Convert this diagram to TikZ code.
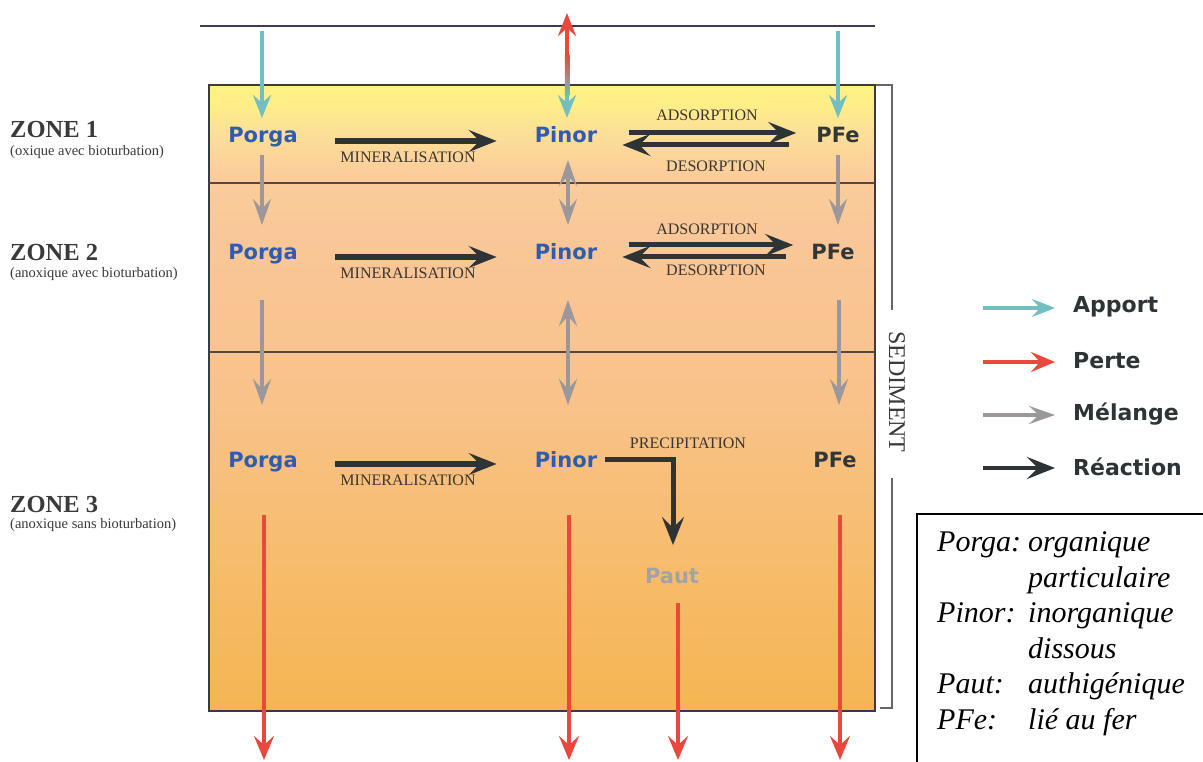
\documentclass[tikz,border=0pt]{standalone}
\usepackage{fontspec}
\setmainfont{Liberation Serif}
\newfontfamily\dvfont{DejaVu Sans}
\usetikzlibrary{arrows.meta}
\definecolor{apportC}{HTML}{72BEC0}
\definecolor{perteC}{HTML}{E8493C}
\definecolor{mixC}{HTML}{9C979B}
\definecolor{reacC}{HTML}{2E3436}
\definecolor{blueT}{HTML}{2F5CAE}
\definecolor{pfeT}{HTML}{333637}
\definecolor{pautT}{HTML}{A2A2AA}
\definecolor{frameC}{HTML}{3A3A40}
\definecolor{waterC}{HTML}{3A3A52}
\definecolor{labC}{HTML}{3A3530}
\definecolor{zoneC}{HTML}{3A3A3A}
\definecolor{midC}{HTML}{A8A070}
\definecolor{sA}{HTML}{F5B552}
\definecolor{sB}{HTML}{F7BC6C}
\definecolor{sC}{HTML}{F8C28A}
\definecolor{sD}{HTML}{F9C697}
\definecolor{sE}{HTML}{FBCD9B}
\definecolor{sF}{HTML}{FDE196}
\definecolor{sG}{HTML}{FEEE88}
\definecolor{sH}{HTML}{FFF282}
\pgfdeclareverticalshading{sedshade}{100bp}{color(0bp)=(sA); color(25bp)=(sA); color(37bp)=(sB); color(50bp)=(sC); color(62bp)=(sD); color(68bp)=(sE); color(71.5bp)=(sF); color(73.4bp)=(sG); color(75bp)=(sH); color(100bp)=(sH)}
\tikzset{
  pnode/.style={font=\dvfont\bfseries\fontsize{21}{25}\selectfont, inner sep=0pt, anchor=base},
  porgaN/.style={pnode, text=blueT},
  pinorN/.style={pnode, text=blueT},
  pfeN/.style={pnode, text=pfeT},
  pautN/.style={pnode, text=pautT},
  lab/.style={font=\fontsize{16}{18}\selectfont, text=labC, inner sep=0pt},
  zt/.style={font=\bfseries\fontsize{24.5}{28}\selectfont, text=zoneC, anchor=west, inner sep=0pt},
  zs/.style={font=\fontsize{14.5}{17}\selectfont, text=zoneC, anchor=west, inner sep=0pt},
  legt/.style={font=\dvfont\bfseries\fontsize{22}{26}\selectfont, text=reacC, anchor=west, inner sep=0pt},
  deft/.style={font=\itshape\fontsize{30}{34}\selectfont, text=black, anchor=base west, inner sep=0pt},
  apport/.style={draw=apportC, line width=4.5pt, -{Stealth[length=23pt,width=18pt,inset=8pt]}},
  perte/.style={draw=perteC, line width=4.5pt, -{Stealth[length=24pt,width=20pt,inset=9pt]}},
  mix/.style={draw=mixC, line width=4.5pt, -{Stealth[length=26pt,width=18pt,inset=10pt]}},
  mixtwo/.style={draw=mixC, line width=4.5pt, {Stealth[length=26pt,width=18pt,inset=10pt]}-{Stealth[length=26pt,width=18pt,inset=10pt]}},
  reac/.style={draw=reacC, line width=5.5pt, line join=miter, -{Stealth[length=28pt,width=22pt,inset=11pt]}},
}
\begin{document}
\begin{tikzpicture}[x=1pt,y=-1pt]
\useasboundingbox (0,0) rectangle (1203,762);
\clip (0,0) rectangle (1203,762);
\fill[white] (0,0) rectangle (1203,762);

% sediment box
\shade[shading=sedshade] (209,85) rectangle (875,711);
\draw[frameC, line width=1.5pt] (209,85) rectangle (875,711);
\draw[frameC!80!brown, line width=1.2pt] (209,183) -- (875,183);
\draw[frameC!80!brown, line width=1.2pt] (209,352) -- (875,352);
% water line
\draw[draw=waterC, line width=1.5pt] (200,26) -- (875,26);

% sediment bracket
\draw[black!60, line width=1.2pt] (876,85) -- (892,85) -- (892,310);
\draw[black!60, line width=1.2pt] (892,478) -- (892,708) -- (880,708);
\node[font=\fontsize{24}{28}\selectfont, text=zoneC, rotate=-90, inner sep=0pt] (sed) at (897,392) {SEDIMENT};

% zone labels
\node[zt] (z1) at (10,130) {ZONE 1};
\node[zs] (z1s) at (10,152) {(oxique avec bioturbation)};
\node[zt] (z2) at (10,253) {ZONE 2};
\node[zs] (z2s) at (10,274) {(anoxique avec bioturbation)};
\node[zt] (z3) at (10,505) {ZONE 3};
\node[zs] (z3s) at (10,525) {(anoxique sans bioturbation)};

% species nodes
\node[porgaN] (porga1) at (263,143) {Porga};
\node[pinorN] (pinor1) at (566,143) {Pinor};
\node[pfeN] (pfe1) at (838,143) {PFe};
\node[porgaN] (porga2) at (263,260) {Porga};
\node[pinorN] (pinor2) at (566,260) {Pinor};
\node[pfeN] (pfe2) at (833,260) {PFe};
\node[porgaN] (porga3) at (263,467) {Porga};
\node[pinorN] (pinor3) at (566,467) {Pinor};
\node[pfeN] (pfe3) at (835,467) {PFe};
\node[pautN] (paut) at (672,583) {Paut};

% inputs from the water column
\coordinate (inA) at (262,31);
\coordinate (inB) at (838,31);
\coordinate (outP) at (567,13);
\draw[apport] (inA) -- ([shift={(-1,-25)}]porga1.base);
\draw[apport] (inB) -- ([shift={(0,-25)}]pfe1.base);
\draw[draw=perteC, line width=4.5pt, -{Stealth[length=23pt,width=18pt,inset=8pt]}] (567,56) -- (outP);
\shade[top color=perteC, middle color=midC, bottom color=apportC] (564.75,55) rectangle (569.25,96);
\draw[apport] (567,95) -- ([shift={(1,-25)}]pinor1.base);

% mixing zone 1 -> zone 2
\draw[mix] ([shift={(-1,12)}]porga1.base) -- ([shift={(-1,-35)}]porga2.base);
\draw[mixtwo] ([shift={(2,17)}]pinor1.base) -- ([shift={(2,-35)}]pinor2.base);
\draw[mix] ([shift={(0,12)}]pfe1.base) -- ([shift={(5,-35)}]pfe2.base);
% mixing zone 2 -> zone 3
\draw[mix] ([shift={(-1,40)}]porga2.base) -- ([shift={(-1,-62)}]porga3.base);
\draw[mixtwo] ([shift={(2,40)}]pinor2.base) -- ([shift={(2,-62)}]pinor3.base);
\draw[mix] ([shift={(6,40)}]pfe2.base) -- ([shift={(4,-62)}]pfe3.base);

% mineralisation
\draw[reac] ([shift={(37,-2)}]porga1.base east) -- ([shift={(-38,-2)}]pinor1.base west);
\draw[reac] ([shift={(37,-3)}]porga2.base east) -- ([shift={(-38,-3)}]pinor2.base west);
\draw[reac] ([shift={(37,-3)}]porga3.base east) -- ([shift={(-38,-3)}]pinor3.base west);
\node[lab] (m1) at (408,157) {MINERALISATION};
\node[lab] (m2) at (408,273) {MINERALISATION};
\node[lab] (m3) at (408,480) {MINERALISATION};

% adsorption / desorption
\draw[reac, line width=5pt] ([shift={(32,-10)}]pinor1.base east) -- ([shift={(-20,-10)}]pfe1.base west);
\draw[reac, line width=5pt] ([shift={(-27,2)}]pfe1.base west) -- ([shift={(25,2)}]pinor1.base east);
\node[lab] (a1) at (707,115) {ADSORPTION};
\node[lab] (d1) at (716,166) {DESORPTION};
\draw[reac, line width=5pt] ([shift={(32,-15)}]pinor2.base east) -- ([shift={(-18,-15)}]pfe2.base west);
\draw[reac, line width=5pt] ([shift={(-25,-3)}]pfe2.base west) -- ([shift={(25,-3)}]pinor2.base east);
\node[lab] (a2) at (707,229) {ADSORPTION};
\node[lab] (d2) at (716,270) {DESORPTION};

% precipitation
\draw[reac, line width=5pt] ([shift={(8,-8)}]pinor3.base east) -| ([shift={(1,-38)}]paut.base);
\node[lab] (pr) at (688,443) {PRECIPITATION};

% losses (burial)
\coordinate (b1) at (264,760);
\coordinate (b2) at (569,760);
\coordinate (b3) at (678,760);
\coordinate (b4) at (840,760);
\draw[perte] ([shift={(1,48)}]porga3.base) -- (b1);
\draw[perte] ([shift={(3,48)}]pinor3.base) -- (b2);
\draw[perte] ([shift={(6,20)}]paut.base) -- (b3);
\draw[perte] ([shift={(5,48)}]pfe3.base) -- (b4);

% legend
\node[legt] (lA) at (1073,307) {Apport};
\node[legt] (lP) at (1073,361) {Perte};
\node[legt] (lM) at (1073,414) {Mélange};
\node[legt] (lR) at (1073,467) {Réaction};
\coordinate (kA) at (983,308);
\coordinate (kP) at (983,362);
\coordinate (kM) at (983,415);
\coordinate (kR) at (983,468);
\draw[apport] (kA) -- ([xshift=-18pt]lA.west |- kA);
\draw[perte] (kP) -- ([xshift=-18pt]lP.west |- kP);
\draw[mix] (kM) -- ([xshift=-18pt]lM.west |- kM);
\draw[reac, line width=4.5pt] (kR) -- ([xshift=-18pt]lR.west |- kR);

% definitions box
\draw[black, line width=1.3pt] (917,514) rectangle (1215,775);
\node[deft] (d1k) at (937,551) {Porga:};
\node[deft] (d1v) at (1028,551) {organique};
\node[deft] (d1w) at (1028,587) {particulaire};
\node[deft] (d2k) at (937,622) {Pinor:};
\node[deft] (d2v) at (1028,622) {inorganique};
\node[deft] (d2w) at (1028,658) {dissous};
\node[deft] (d3k) at (937,693) {Paut:};
\node[deft] (d3v) at (1028,693) {authigénique};
\node[deft] (d4k) at (937,729) {PFe:};
\node[deft] (d4v) at (1028,729) {lié au fer};
\end{tikzpicture}
\end{document}
